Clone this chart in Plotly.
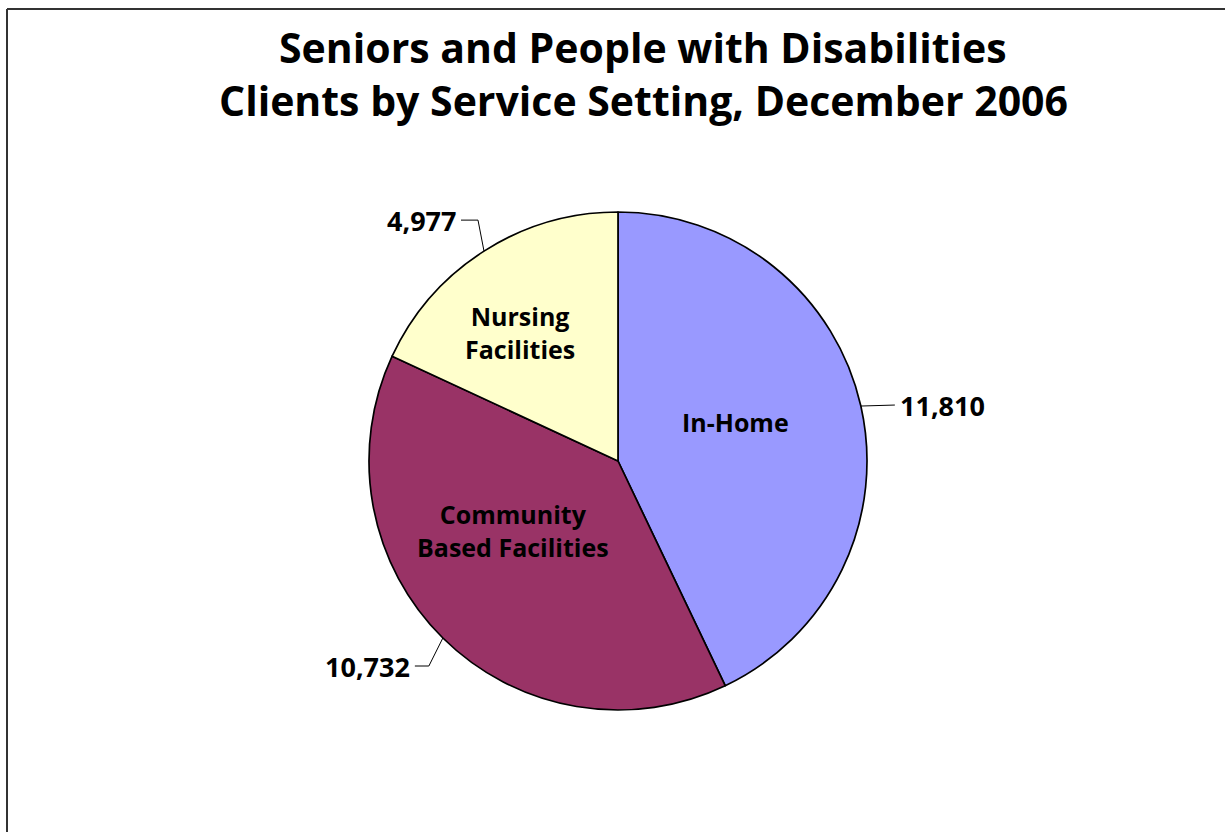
import math
import plotly.graph_objects as go

# Client counts by service setting
categories = ["In-Home", "Community<br>Based Facilities", "Nursing<br>Facilities"]
values = [11810, 10732, 4977]
colors = ["#9999FF", "#993366", "#FFFFCC"]

W, H = 1225, 832
CX, CY, R = 618, 461, 249  # pie centre and radius in pixels

FONT = "Open Sans"

def px(x, y):
    return x / W, 1 - y / H

fig = go.Figure()
fig.add_trace(go.Pie(
    labels=categories,
    values=values,
    sort=False,
    direction="clockwise",
    rotation=0,
    marker=dict(colors=colors, line=dict(color="black", width=1.7)),
    textinfo="none",
    hoverinfo="label+value",
    showlegend=False,
    domain=dict(x=[(CX - R) / W, (CX + R) / W], y=[1 - (CY + R) / H, 1 - (CY - R) / H]),
))

# Slice mid-angles (clockwise from 12 o'clock)
total = sum(values)
mids = []
acc = 0.0
for v in values:
    mids.append((acc + v / 2) / total * 2 * math.pi)
    acc += v

# Label placement styles: inside label (radius fraction, nudge), leader elbow and text offset
inside_style = [(0.5, (-4, -12)), (0.5, (-17, -19)), (0.6, (-18, -3))]
leader_style = [
    [(0, 0), (34, -1)],
    [(0, 0), (-14, 28), (-28, 28)],
    [(0, 0), (-6, -31), (-23, -31)],
]
value_anchor = ["left", "right", "right"]

annotations = []
shapes = []
for i, (cat, v, a) in enumerate(zip(categories, values, mids)):
    f, (nx, ny) = inside_style[i]
    lx = CX + f * R * math.sin(a) + nx
    ly = CY - f * R * math.cos(a) + ny
    x, y = px(lx, ly)
    annotations.append(dict(x=x, y=y, xref="paper", yref="paper", text=f"<b>{cat}</b>",
                            showarrow=False, font=dict(family=FONT, size=25, color="black"),
                            xanchor="center", yanchor="middle"))
    ex = CX + R * math.sin(a)
    ey = CY - R * math.cos(a)
    pts = [px(ex + dx, ey + dy) for dx, dy in leader_style[i]]
    path = "M " + " L ".join(f"{p[0]},{p[1]}" for p in pts)
    shapes.append(dict(type="path", path=path, xref="paper", yref="paper",
                       line=dict(color="black", width=1)))
    tx, ty = pts[-1]
    annotations.append(dict(x=tx, y=ty, xref="paper", yref="paper", text=f"<b>{v:,}</b>",
                            showarrow=False, font=dict(family=FONT, size=27, color="black"),
                            xanchor=value_anchor[i], yanchor="middle", xshift=3 if value_anchor[i] == "left" else -3))

# Title lines
for txt, yy in [("Seniors and People with Disabilities", 47), ("Clients by Service Setting, December 2006", 100)]:
    x, y = px(643, yy)
    annotations.append(dict(x=x, y=y, xref="paper", yref="paper", text=f"<b>{txt}</b>",
                            showarrow=False, font=dict(family=FONT, size=41, color="black"),
                            xanchor="center", yanchor="middle"))

# Frame lines
for x0, y0, x1, y1 in [(7, 9, 7, H), (7, 9, W, 9)]:
    a0 = px(x0, y0)
    a1 = px(x1, y1)
    shapes.append(dict(type="line", xref="paper", yref="paper", x0=a0[0], y0=a0[1], x1=a1[0], y1=a1[1],
                       line=dict(color="#333333", width=2)))

fig.update_layout(
    width=W, height=H, autosize=False,
    margin=dict(l=0, r=0, t=0, b=0),
    paper_bgcolor="white", plot_bgcolor="white",
    annotations=annotations, shapes=shapes,
)

fig.write_html("out.html")
